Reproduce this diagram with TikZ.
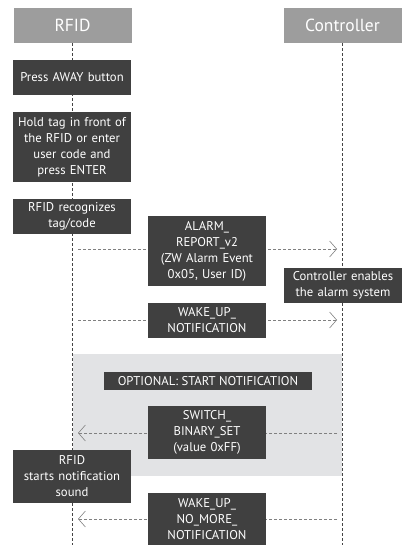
\documentclass[tikz,border=0pt]{standalone}
\usepackage{fontspec}
\setmainfont{PT Sans}
\usetikzlibrary{positioning, arrows.meta}

\definecolor{headgray}{HTML}{9D9D9D}
\definecolor{boxgray}{HTML}{404040}
\definecolor{optgray}{HTML}{E2E3E5}
\definecolor{lifegray}{HTML}{444444}

\begin{document}
\begin{tikzpicture}[
  x=1pt, y=-1pt,
  every node/.style={font=\fontsize{12.7}{16}\selectfont, text=white, align=center, inner sep=0pt},
  head/.style={fill=headgray, minimum width=118pt, minimum height=35pt, font=\fontsize{17.5}{19}\selectfont},
  step box/.style={fill=boxgray, minimum width=118pt, minimum height=35pt, text width=117pt},
  msg/.style={fill=boxgray, minimum width=118pt, minimum height=35pt, text width=117pt},
  life/.style={draw=lifegray, densely dashed, line width=0.7pt},
  call/.style={draw=gray, densely dashed, line width=0.6pt, -{Straight Barb[length=7pt,width=16pt]}}
]
\useasboundingbox (0,0) rectangle (413,545);

% optional part
\fill[optgray] (73,354) rectangle (342,476);

% lifelines
\node[head] (rfid) at (72.5,25.5) {RFID};
\node[head] (ctrl) at (342.5,25.5) {Controller};
\coordinate (rfidend) at (72.5,545);
\coordinate (ctrlend) at (342.5,545);
\draw[life] (rfid.south) -- (rfidend);
\draw[life] (ctrl.south) -- (ctrlend);

% message ends
\coordinate (alarmL) at (78,249);
\coordinate (alarmR) at (337,249);
\coordinate (wakeL) at (78,320);
\coordinate (wakeR) at (337,320);
\coordinate (switchL) at (78,433);
\coordinate (switchR) at (337,433);
\coordinate (nomoreL) at (78,519);
\coordinate (nomoreR) at (337,519);
\draw[call] (alarmL) -- (alarmR);
\draw[call] (wakeL) -- (wakeR);
\draw[call] (switchR) -- (switchL);
\draw[call] (nomoreR) -- (nomoreL);

% RFID steps
\node[step box] (away) at (72,77.5) {Press AWAY button};
\node[step box, minimum height=70pt] (hold) at (72,147) {Hold tag in front of\\the RFID or enter\\user code and\\press ENTER};
\node[step box] (recog) at (72,216.5) {RFID recognizes\\tag/code};
\node[step box, minimum height=53pt] (sound) at (72,476.5) {RFID\\starts notification\\sound};

% controller step
\node[step box] (enable) at (343,285.5) {Controller enables\\the alarm system};

% messages
\node[msg, minimum height=70pt] (alarm) at (207,251) {ALARM\_\\REPORT\_v2\\(ZW Alarm Event\\0x05, User ID)};
\node[msg] (wake) at (207,320.5) {WAKE\_UP\_\\NOTIFICATION};
\node[fill=boxgray, minimum width=208pt, minimum height=18pt] (opt) at (208,381) {OPTIONAL: START NOTIFICATION};
\node[msg, minimum height=53pt] (switch) at (207,432.5) {SWITCH\_\\BINARY\_SET\\(value 0xFF)};
\node[msg, minimum height=53pt] (nomore) at (207,519.5) {WAKE\_UP\_\\NO\_MORE\_\\NOTIFICATION};

\end{tikzpicture}
\end{document}
